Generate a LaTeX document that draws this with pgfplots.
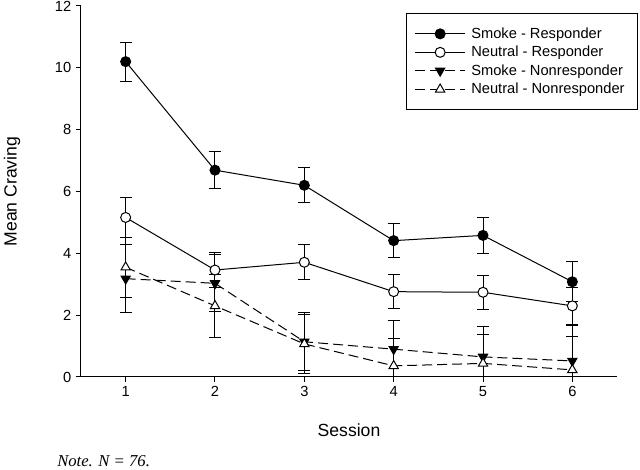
\documentclass[border=0pt]{standalone}
\usepackage{pgfplots}
\pgfplotsset{compat=1.18}
\usepackage{fontspec}
\setmainfont{Liberation Sans}
\newfontfamily\timesfont{Liberation Serif}
\usetikzlibrary{plotmarks}

\pgfplotstableread{
x  y     e
1  10.20 0.63
2  6.69  0.60
3  6.20  0.56
4  4.41  0.56
5  4.58  0.57
6  3.08  0.65
}\smokeresp
\pgfplotstableread{
x  y     e
1  5.16  0.64
2  3.46  0.57
3  3.71  0.56
4  2.76  0.55
5  2.74  0.55
6  2.30  0.60
}\neutralresp
\pgfplotstableread{
x  y     e
1  3.18  1.10
2  3.03  0.92
3  1.14  0.93
4  0.90  0.92
5  0.65  0.98
6  0.52  1.13
}\smokenon
\pgfplotstableread{
x  y     e
1  3.55  0.97
2  2.30  1.02
3  1.07  0.95
4  0.36  0.89
5  0.44  0.92
6  0.23  1.07
}\neutralnon

\begin{document}
\begin{tikzpicture}[x=1pt,y=1pt]
\path[use as bounding box] (-60.75pt,-69.75pt) rectangle (419.25pt,282.75pt);
\begin{axis}[
  at={(0pt,0pt)}, anchor=south west,
  scale only axis,
  width=402pt, height=278.25pt,
  xmin=0.5, xmax=6.5, ymin=0, ymax=12,
  axis x line*=bottom, axis y line*=left,
  axis line style={line width=0.75pt},
  xtick={1,2,3,4,5,6},
  ytick={0,2,4,6,8,10,12},
  tick align=outside,
  major tick length=3.75pt,
  tick style={line width=0.75pt, black},
  /pgf/number format/assume math mode=true,
  ticklabel style={font=\fontsize{11}{13}\selectfont},
  xlabel={Session},
  ylabel={Mean Craving},
  label style={font=\fontsize{13.2}{15}\selectfont},
  xlabel style={at={(axis description cs:0.5,-0.143)}, anchor=center},
  ylabel style={at={(axis description cs:-0.1287,0.5)}, anchor=center},
  clip=true,
  every axis plot/.append style={line width=0.75pt, black},
  error bars/error bar style={line width=0.75pt, solid},
  error bars/error mark options={rotate=90, mark size=4.5pt, line width=0.75pt, solid},
  legend style={
    at={(rel axis cs:0.606,0.981)}, anchor=north west,
    draw=black, line width=0.75pt,
    font=\fontsize{11}{13}\selectfont,
    inner xsep=6pt, inner ysep=8.5pt,
    row sep=0.4pt,
    cells={anchor=west},
    nodes={inner xsep=4pt},
  },
  legend image code/.code={
    \draw[mark repeat=2,mark phase=2] plot coordinates {(0pt,0pt)(19pt,0pt)(38pt,0pt)};
  },
]
\addplot[solid, mark=*, mark size=3.75pt, mark options={solid, fill=black},
  error bars/.cd, y dir=both, y explicit]
  table[x=x, y=y, y error=e] {\smokeresp};
\addlegendentry{Smoke - Responder}
\addplot[solid, mark=*, mark size=3.75pt, mark options={solid, fill=white},
  error bars/.cd, y dir=both, y explicit]
  table[x=x, y=y, y error=e] {\neutralresp};
\addlegendentry{Neutral - Responder}
\addplot[dash pattern=on 7.5pt off 3.75pt, mark=triangle*, mark size=4pt, mark options={solid, fill=black, rotate=180},
  error bars/.cd, y dir=both, y explicit]
  table[x=x, y=y, y error=e] {\smokenon};
\addlegendentry{Smoke - Nonresponder}
\addplot[dash pattern=on 7.5pt off 3.75pt, mark=triangle*, mark size=4pt, mark options={solid, fill=white},
  error bars/.cd, y dir=both, y explicit]
  table[x=x, y=y, y error=e] {\neutralnon};
\addlegendentry{Neutral - Nonresponder}
\end{axis}
\node[anchor=base west, font=\timesfont\itshape\fontsize{12.5}{14}\selectfont, inner sep=0pt] at (-18pt,-67.5pt) {Note. N = 76.};
\end{tikzpicture}
\end{document}
